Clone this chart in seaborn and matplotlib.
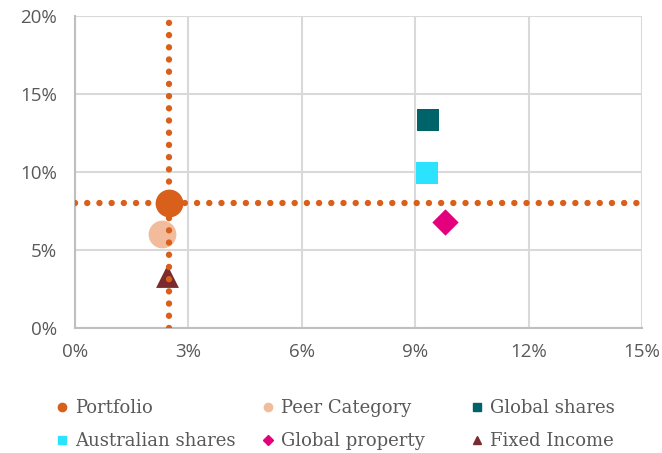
import matplotlib
matplotlib.use("Agg")
import matplotlib.pyplot as plt
import seaborn as sns
from matplotlib.lines import Line2D
from matplotlib.ticker import FuncFormatter

# risk (x, %) and return (y, %) per series
series = ["Portfolio", "Peer Category", "Global shares",
          "Australian shares", "Global property", "Fixed Income"]
risk = [2.5, 2.3, 9.35, 9.3, 9.8, 2.45]
ret = [8.0, 6.0, 13.3, 9.9, 6.8, 3.3]

# reference lines at portfolio values
ref_x = 2.5
ref_y = 8.0

x_ticks = [0, 3, 6, 9, 12, 15]
y_ticks = [0, 5, 10, 15, 20]

colors = ["#D9601A", "#F2BC9C", "#00636A", "#2CE3FF", "#E4007C", "#7A2B2E"]
markers = ["o", "o", "s", "s", "D", "^"]
sizes = [400, 400, 256, 256, 180, 270]
legend_sizes = [6, 6, 6, 6, 5, 6]

sns.set_style("white")
plt.rcParams["font.family"] = ["Open Sans", "DejaVu Sans"]

fig = plt.figure(figsize=(6.62, 4.53), dpi=100)
ax = fig.add_axes([0.113, 0.276, 0.857, 0.689])

for i, name in enumerate(series):
    sns.scatterplot(x=[risk[i]], y=[ret[i]], marker=markers[i], s=sizes[i],
                    color=colors[i], linewidth=0, ax=ax,
                    zorder=5 if name == "Portfolio" else 3)

dots = (0, (0.01, 1.9))
ax.axvline(ref_x, color="#D9601A", lw=4.6, linestyle=dots,
           dash_capstyle="round", zorder=4)
ax.axhline(ref_y, color="#D9601A", lw=4.6, linestyle=dots,
           dash_capstyle="round", zorder=4)

ax.set_xlim(0, 15)
ax.set_ylim(0, 20)
ax.set_xticks(x_ticks)
ax.set_yticks(y_ticks)
pct = FuncFormatter(lambda v, p: f"{v:.0f}%")
ax.xaxis.set_major_formatter(pct)
ax.yaxis.set_major_formatter(pct)
ax.grid(True, color="#D9D9D9", lw=1.5, zorder=0)
ax.set_axisbelow(True)
ax.set_xlabel("")
ax.set_ylabel("")
ax.tick_params(length=0, labelsize=13.5, labelcolor="#595959")
ax.tick_params(axis="x", pad=11)
ax.tick_params(axis="y", pad=13)

for side in ["top", "right"]:
    ax.spines[side].set_visible(False)
for side in ["left", "bottom"]:
    ax.spines[side].set_color("#BFBFBF")
    ax.spines[side].set_linewidth(1.5)

# legend: three columns, filled row by row
col_x = [0.083, 0.394, 0.710]
for c in range(3):
    idx = [c, c + 3]
    handles = [Line2D([], [], marker=markers[i], color=colors[i],
                      linestyle="", markersize=legend_sizes[i],
                      label=series[i]) for i in idx]
    leg = fig.legend(handles=handles, loc="upper left",
                     bbox_to_anchor=(col_x[c], 0.119), frameon=False,
                     borderpad=0, borderaxespad=0, handletextpad=0.3,
                     handlelength=0.8, labelspacing=0.82,
                     prop={"family": "DejaVu Serif", "size": 13},
                     labelcolor="#595959")

fig.savefig("out.png", dpi=100)
